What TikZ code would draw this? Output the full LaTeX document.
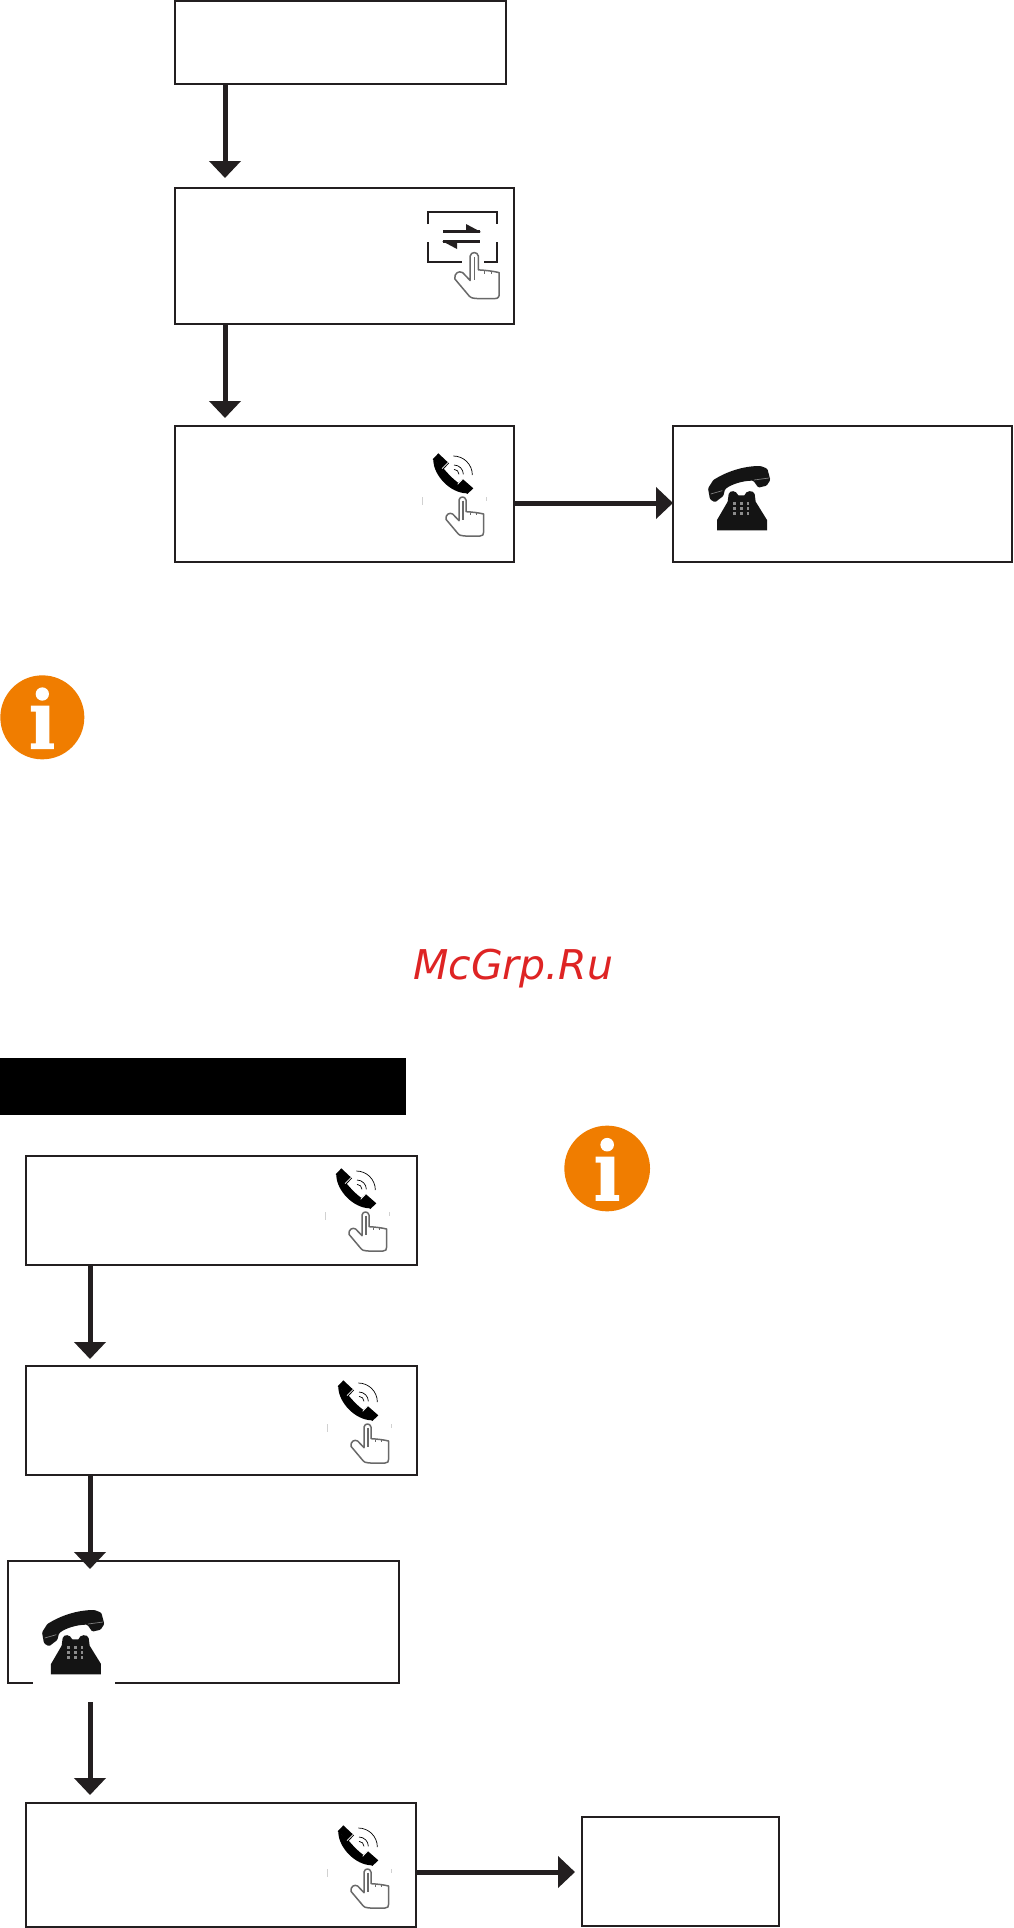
\documentclass[tikz,border=0pt]{standalone}
\usepackage{fontspec}
\setmainfont{DejaVu Sans}
\usetikzlibrary{arrows.meta}
\definecolor{ink}{RGB}{35,31,32}
\definecolor{infoorange}{RGB}{240,125,0}
\definecolor{wmred}{RGB}{222,36,36}
\definecolor{handgray}{RGB}{105,105,105}
\newcommand{\handshape}{%
    \draw[handgray,line width=1.5pt,line join=round,fill=white]
      (237,270) -- (237,332) -- (218,312) .. controls (208,306) and (196,314) .. (198,328)
      -- (235,372) .. controls (240,378) and (250,379) .. (300,378)
      .. controls (308,378) and (311,374) .. (311,366) -- (311,312)
      .. controls (295,308) and (275,306) .. (258,305) -- (258,270)
      .. controls (256,258) and (239,258) .. (237,270) -- cycle;
    \draw[handgray,line width=1.8pt] (248,272) -- (248,330);
    \draw[handgray,line width=.8pt] (272,308) -- (272,315) (290,309) -- (290,316);
}
\tikzset{
  x=1pt,y=-1pt,
  box/.style={draw=ink,line width=2.6pt,fill=white,inner sep=0pt,outer sep=0pt,anchor=north west},
  conn/.style={draw=ink,line width=5pt,-{Triangle[length=17pt,width=31pt,fill=ink]}},
  hand/.pic={\handshape},
  ringphone/.pic={
    \fill[black] (175,130) -- (207,160) -- (190,178) -- (158,148) -- cycle;
    \fill[black] (248,207) -- (280,235) -- (262,252) -- (232,222) -- cycle;
    \fill[black] (160,150) .. controls (160,195) and (210,250) .. (262,250)
      -- (240,222) .. controls (224,212) and (204,192) .. (188,172) -- cycle;
    \draw[white,line width=.7pt] (186,176) -- (205,157) (233,223) -- (250,205);
    \draw[black,line width=.7pt]
      (220,138) arc[start angle=-90,end angle=0,radius=57]
      (222,165) arc[start angle=-90,end angle=0,radius=28]
      (222,178) arc[start angle=-90,end angle=0,radius=15];
    \draw[black!18,line width=1pt] (128,262) -- (128,285) (318,262) -- (318,272);
    \handshape
  },
  deskphone/.pic={
    \fill[black!92,rounded corners=1.2pt] (114,205) -- (130,180) .. controls (170,155) and (220,138) .. (272,138)
      -- (292,146) -- (301,180) -- (290,197) -- (265,203) -- (250,182)
      .. controls (220,182) and (185,192) .. (165,208) -- (160,228) -- (135,247) -- (120,238) -- cycle;
    \draw[gray,line width=.7pt] (122,222) -- (157,212) (252,180) -- (297,174);
    \fill[black!92] (141,331) -- (141,300) -- (173,245) -- (176,222) .. controls (180,210) and (198,210) .. (205,226)
      -- (223,226) .. controls (228,210) and (250,210) .. (254,222) -- (257,245) -- (291,300) -- (291,331) -- cycle;
    \foreach \kx in {194,214,234}{\foreach \ky in {250,265,280}{
      \fill[black!45] (\kx-4,\ky-4) rectangle (\kx+4,\ky+4);}}
  },
  infoicon/.pic={
    \fill[infoorange] (127,172) circle[radius=126];
    \fill[white] (127,102) circle[radius=20];
    \fill[white] (93,137) -- (148,137) -- (148,250) -- (162,250) -- (162,267) -- (93,267)
      -- (93,250) -- (108,250) -- (108,155) -- (93,155) -- cycle;
  },
  swapicon/.pic={
    \draw[ink,line width=2.6pt] (428,224) -- (428,212) -- (497,212) -- (497,224)
      (428,242) -- (428,262) -- (462,262) (484,262) -- (497,262) -- (497,242);
    \draw[ink,line width=3pt] (443,231) -- (480,231) (443,241.5) -- (480,241.5);
    \fill[ink] (466,224) -- (481,232) -- (466,232) -- cycle;
    \fill[ink] (457,249) -- (442,241) -- (457,241) -- cycle;
  }
}
\begin{document}
\begin{tikzpicture}[x=1pt,y=-1pt]
\useasboundingbox (0,0) rectangle (1013,1928);
\fill[white] (0,0) rectangle (1013,1928);
% boxes
\node[box,minimum width=331pt,minimum height=83pt] (b1) at (175,1) {};
\node[box,minimum width=339pt,minimum height=136pt] (b2) at (175,188) {};
\node[box,minimum width=339pt,minimum height=136pt] (b3) at (175,426) {};
\node[box,minimum width=339pt,minimum height=136pt] (b4) at (673,426) {};
\node[fill=black,inner sep=0pt,anchor=north west,minimum width=406pt,minimum height=57pt] (bar) at (0,1058) {};
\node[box,minimum width=391pt,minimum height=109pt] (b5) at (26,1156) {};
\node[box,minimum width=391pt,minimum height=109pt] (b6) at (26,1366) {};
\node[box,minimum width=391pt,minimum height=122pt] (b7) at (8,1561) {};
\node[box,minimum width=390pt,minimum height=124pt] (b8) at (26,1803) {};
\node[box,minimum width=197pt,minimum height=109pt] (b9) at (582,1817) {};
% arrow ends
\coordinate (t1) at (225,178);
\coordinate (t2) at (225,418);
\coordinate (t3) at (673,503);
\coordinate (t5) at (90,1359);
\coordinate (t6) at (90,1569);
\coordinate (s7) at (90,1702);
\coordinate (t7) at (90,1795);
\coordinate (t8) at (575,1872);
% connectors
\draw[conn] (t1 |- b1.south) -- (t1);
\draw[conn] (t2 |- b2.south) -- (t2);
\draw[conn] (b3.east |- t3) -- (t3);
\draw[conn] (t5 |- b5.south) -- (t5);
\draw[conn] (t6 |- b6.south) -- (t6);
\draw[conn] (s7) -- (t7);
\draw[conn] (b8.east |- t8) -- (t8);
% icons
\pic at (0,0) {swapicon};
\pic[shift={(377,150)},scale=0.393] {hand};
\pic[shift={(380,410)},scale=1/3] {ringphone};
\pic[shift={(283,1125)},scale=1/3] {ringphone};
\pic[shift={(285,1337)},scale=1/3] {ringphone};
\pic[shift={(285,1782)},scale=1/3] {ringphone};
\pic[shift={(670,420)},scale=1/3] {deskphone};
\fill[white] (33,1603) rectangle (115,1685);
\pic[shift={(4,1564)},scale=1/3] {deskphone};
\pic[shift={(0,660)},scale=1/3] {infoicon};
\pic[shift={(564,1110)},scale=0.34] {infoicon};
% watermark
\node[anchor=base west,inner sep=0pt,text=wmred,font=\fontsize{41pt}{41pt}\selectfont\itshape] (wm) at (413,979) {McGrp.Ru};
\end{tikzpicture}
\end{document}
